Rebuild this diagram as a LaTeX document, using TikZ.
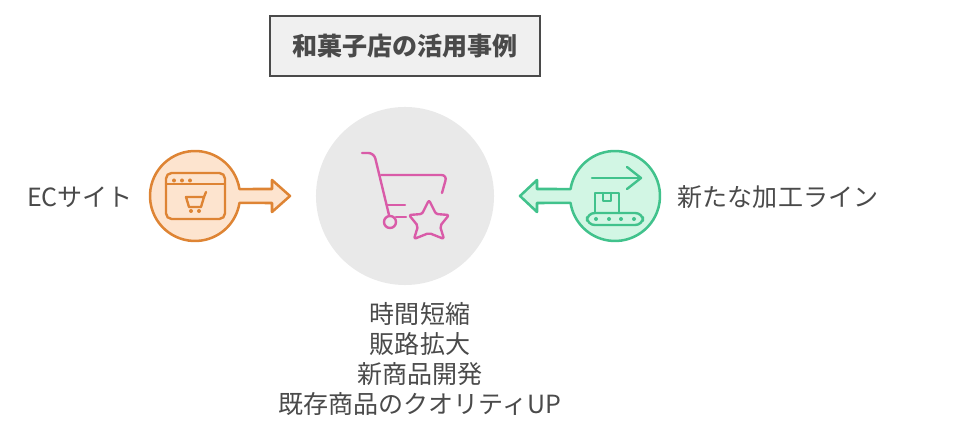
\documentclass[tikz,border=0pt]{standalone}
\usepackage{fontspec}
\setmainfont{Noto Sans CJK JP}
\usetikzlibrary{positioning, calc}
\definecolor{inkgray}{HTML}{4A4A4A}
\definecolor{hubgray}{HTML}{E9E9E9}
\definecolor{titlegray}{HTML}{F0F0F0}
\definecolor{cartpink}{HTML}{D95BA8}
\definecolor{shopline}{HTML}{DE8434}
\definecolor{shopfill}{HTML}{FDE4CF}
\definecolor{plantline}{HTML}{41C28C}
\definecolor{plantfill}{HTML}{D2F6E4}
\tikzset{
    label text/.style={text=inkgray, inner sep=0pt, align=center, font=\fontsize{17.8}{21.3}\selectfont},
    ring/.style={circle, inner sep=0pt, outer sep=0pt, minimum size=2.25cm},
    badge/.style={line width=1.8pt, line join=round},
    icon/.style={line width=1.7pt, line cap=round, line join=round},
}
\begin{document}
\begin{tikzpicture}[x=0.025cm, y=0.025cm]
    \useasboundingbox (0, 0) rectangle (960, 432);

    \node[draw=inkgray, fill=titlegray, line width=2pt, minimum width=6.75cm, minimum height=1.5cm, text=inkgray, font=\fontsize{17.8}{21.3}\selectfont\bfseries] (title) at (405, 386) {和菓子店の活用事例};

    \node[ring, fill=hubgray, minimum size=4.45cm] (hub) at (405, 236) {};
    \node[ring] (shop) at (195, 236) {};
    \node[ring] (plant) at (615, 236) {};

    \node[label text] (shoplabel) at (80, 235) {ECサイト};
    \node[label text] (plantlabel) at (778, 235) {新たな加工ライン};
    \node[label text] (effects) at (420, 73) {時間短縮\\販路拡大\\新商品開発\\既存商品のクオリティUP};

    \draw[badge, draw=shopline, fill=shopfill]
        ($(shop) + (8.9:45)$) arc[start angle=8.9, end angle=351.1, radius=45]
        -- (272, 229) -- (272, 220) -- (290, 236) -- (272, 252) -- (272, 243) -- cycle;
    \draw[badge, draw=plantline, fill=plantfill]
        ($(plant) + (171.1:45)$) arc[start angle=171.1, end angle=-171.1, radius=45]
        -- (537, 229) -- (537, 220) -- (520, 236) -- (537, 252) -- (537, 243) -- cycle;

    \draw[icon, draw=shopline, rounded corners=4pt] (166, 213) rectangle (225, 259);
    \draw[icon, draw=shopline] (166, 248) -- (225, 248);
    \foreach \x in {174, 182, 190}
        \fill[shopline] (\x, 251.5) circle (2);
    \draw[icon, draw=shopline] (206, 240) -- (204, 235) -- (186, 235) -- (189, 225) -- (201, 225) -- (204, 235);
    \foreach \x in {191, 199}
        \fill[shopline] (\x, 221) circle (2);

    \draw[icon, draw=cartpink, rounded corners=4pt] (362, 279) -- (374, 279) -- (389, 217);
    \draw[icon, draw=cartpink, rounded corners=4pt] (381, 257) -- (447, 257) -- (442, 239);
    \draw[icon, draw=cartpink] (387, 227) -- (405, 227);
    \draw[icon, draw=cartpink] (396, 215) -- (406, 215);
    \draw[icon, draw=cartpink] (390, 210) circle (6);
    \draw[icon, draw=cartpink, rounded corners=1.5pt]
        (429, 232) -- (436, 218) -- (449, 217) -- (440, 206) -- (444, 193)
        -- (429, 199) -- (414, 193) -- (418, 206) -- (409, 217) -- (422, 218) -- cycle;

    \draw[icon, draw=plantline] (592, 254) -- (641, 254);
    \draw[icon, draw=plantline] (627, 265) -- (641, 254) -- (627, 243);
    \draw[icon, draw=plantline] (595, 219) -- (595, 239) -- (619, 239) -- (619, 219);
    \draw[icon, draw=plantline] (603, 239) -- (603, 231) -- (611, 231) -- (611, 239);
    \draw[icon, draw=plantline, rounded corners=5.5pt] (587, 207) rectangle (643, 219);
    \foreach \x in {596, 609, 621, 634}
        \fill[plantline] (\x, 213) circle (2);
\end{tikzpicture}
\end{document}
